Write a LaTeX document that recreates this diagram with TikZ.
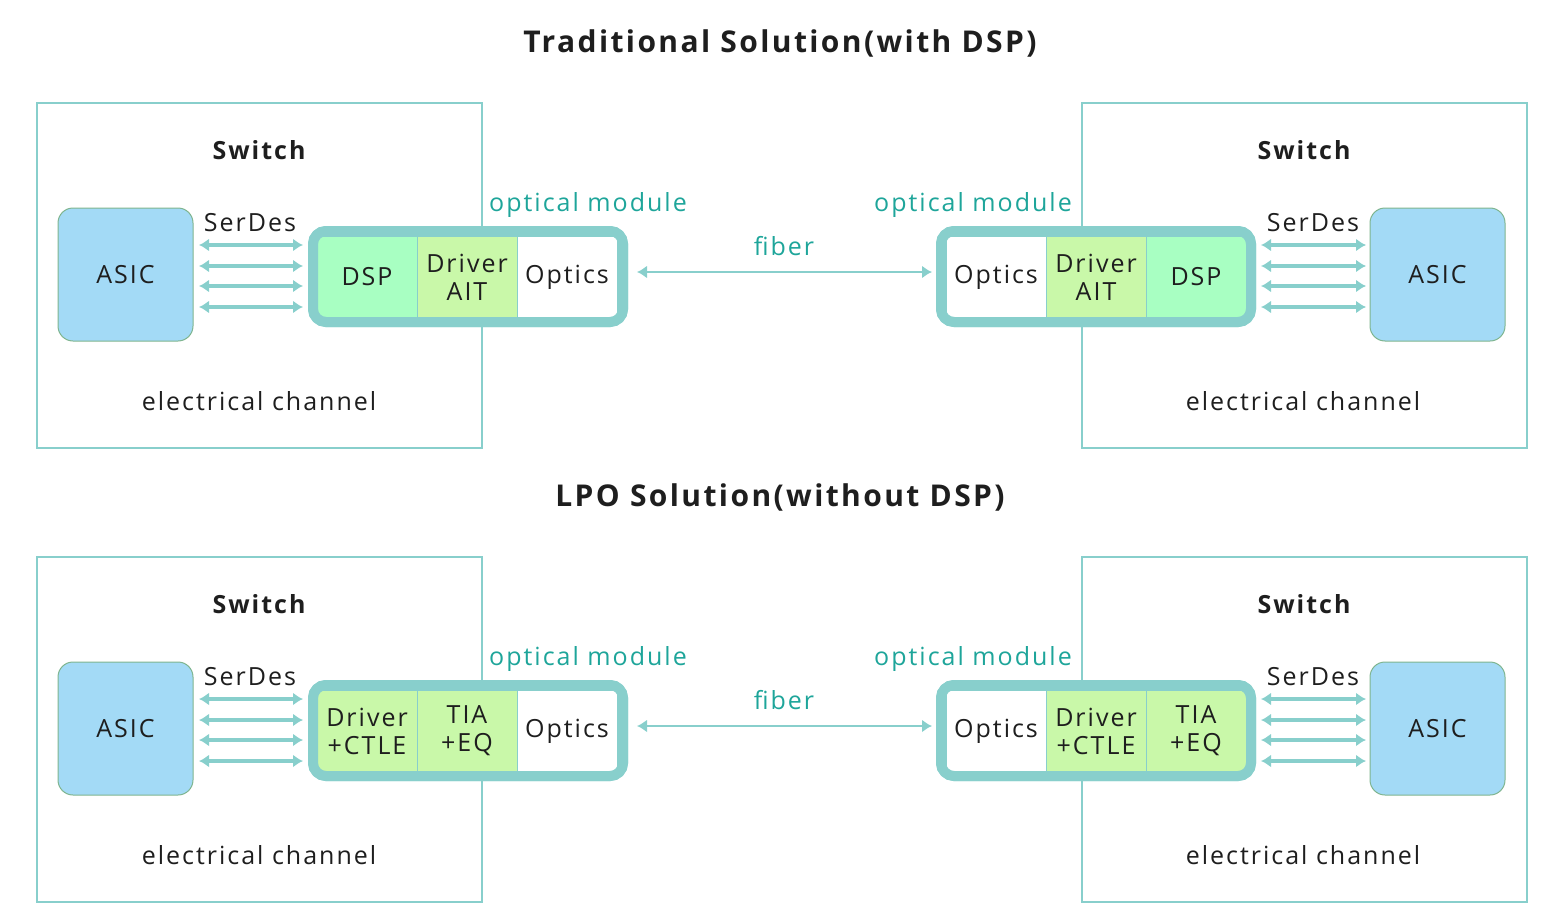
\documentclass[tikz,border=0pt]{standalone}
\usepackage{fontspec}
\setmainfont{Open Sans}[LetterSpace=8]
\usetikzlibrary{arrows.meta}
\definecolor{teal1}{HTML}{88CFCC}
\definecolor{tealtxt}{HTML}{1EA59A}
\definecolor{asicf}{HTML}{A3DAF6}
\definecolor{asicb}{HTML}{7FB58F}
\definecolor{dspc}{HTML}{A8FFC2}
\definecolor{drvc}{HTML}{C9F8A9}
\definecolor{txt}{HTML}{1E1E1E}
\begin{document}
\begin{tikzpicture}[x=1pt,y=-1pt,
  sw/.style={draw=teal1,line width=1.3pt},
  asic/.style={draw=asicb,fill=asicf,rounded corners=15pt,line width=1pt,minimum width=135pt,minimum height=133pt,font=\fontsize{25}{27}\selectfont,text=txt},
  mod/.style={draw=teal1,line width=10pt,fill=white,rounded corners=13pt},
  cell/.style={draw=teal1,line width=1pt,minimum width=100pt,minimum height=82pt,inner sep=0pt,align=center,font=\fontsize{25}{28}\selectfont,text=txt},
  lbl/.style={font=\fontsize{25}{27}\selectfont,text=txt},
  tlbl/.style={font=\fontsize{25}{27}\selectfont,text=tealtxt},
  ttl/.style={font=\bfseries\fontsize{30}{32}\selectfont,text=txt},
  swl/.style={font=\bfseries\fontsize{25}{27}\selectfont,text=txt},
  arr/.style={draw=teal1,line width=3.5pt,{Latex[length=10pt,width=13pt]}-{Latex[length=10pt,width=13pt]}}]
\useasboundingbox (0,0) rectangle (1560,915);
\newcommand\myrow[8]{%
\begin{scope}[yshift=-#1pt]
\node[ttl] (#2t) at (780,43) {#3};
\draw[sw] (37,103) rectangle (482,448);
\draw[sw] (1082,103) rectangle (1527,448);
\node[swl] (#2sl) at (259,150) {Switch};
\node[swl] (#2sr) at (1304,150) {Switch};
\node[asic] (#2al) at (125.5,274.5) {ASIC};
\node[asic] (#2ar) at (1437.5,274.5) {ASIC};
\node[lbl] (#2dl) at (250,223) {SerDes};
\node[lbl] (#2dr) at (1313,223) {SerDes};
\foreach \yy/\k in {245/1,266/2,286/3,307/4}{
  \coordinate (#2la\k) at (199,\yy); \coordinate (#2lb\k) at (303,\yy);
  \coordinate (#2ra\k) at (1261,\yy); \coordinate (#2rb\k) at (1366,\yy);
  \draw[arr] (#2la\k) -- (#2lb\k);
  \draw[arr] (#2ra\k) -- (#2rb\k);}
\draw[mod] (313,231) rectangle (623,322);
\draw[mod] (941,231) rectangle (1251,322);
\node[cell,fill=#4] (#2c1) at (367,277) {#5};
\node[cell,fill=drvc] (#2c2) at (467,277) {#6};
\node[cell,fill=white] (#2c3) at (567,277) {Optics};
\node[cell,fill=white] (#2c4) at (996,277) {Optics};
\node[cell,fill=drvc] (#2c5) at (1096,277) {#7};
\node[cell,fill=#4] (#2c6) at (1196,277) {#8};
\draw[mod,fill=none] (313,231) rectangle (623,322);
\draw[mod,fill=none] (941,231) rectangle (1251,322);
\node[tlbl] (#2ol) at (588,205) {optical module};
\node[tlbl] (#2or) at (973,205) {optical module};
\node[tlbl] (#2f) at (784,246) {fiber};
\coordinate (#2fa) at (637,272); \coordinate (#2fb) at (932,272);
\draw[arr,line width=2.5pt] (#2fa) -- (#2fb);
\node[lbl] (#2el) at (259,401) {electrical channel};
\node[lbl] (#2er) at (1303,401) {electrical channel};
\end{scope}}
\myrow{0}{a}{Traditional Solution(with DSP)}{dspc}{DSP}{Driver\\AIT}{Driver\\AIT}{DSP}
\myrow{454}{b}{LPO Solution(without DSP)}{drvc}{Driver\\+CTLE}{TIA\\+EQ}{Driver\\+CTLE}{TIA\\+EQ}
\end{tikzpicture}
\end{document}
